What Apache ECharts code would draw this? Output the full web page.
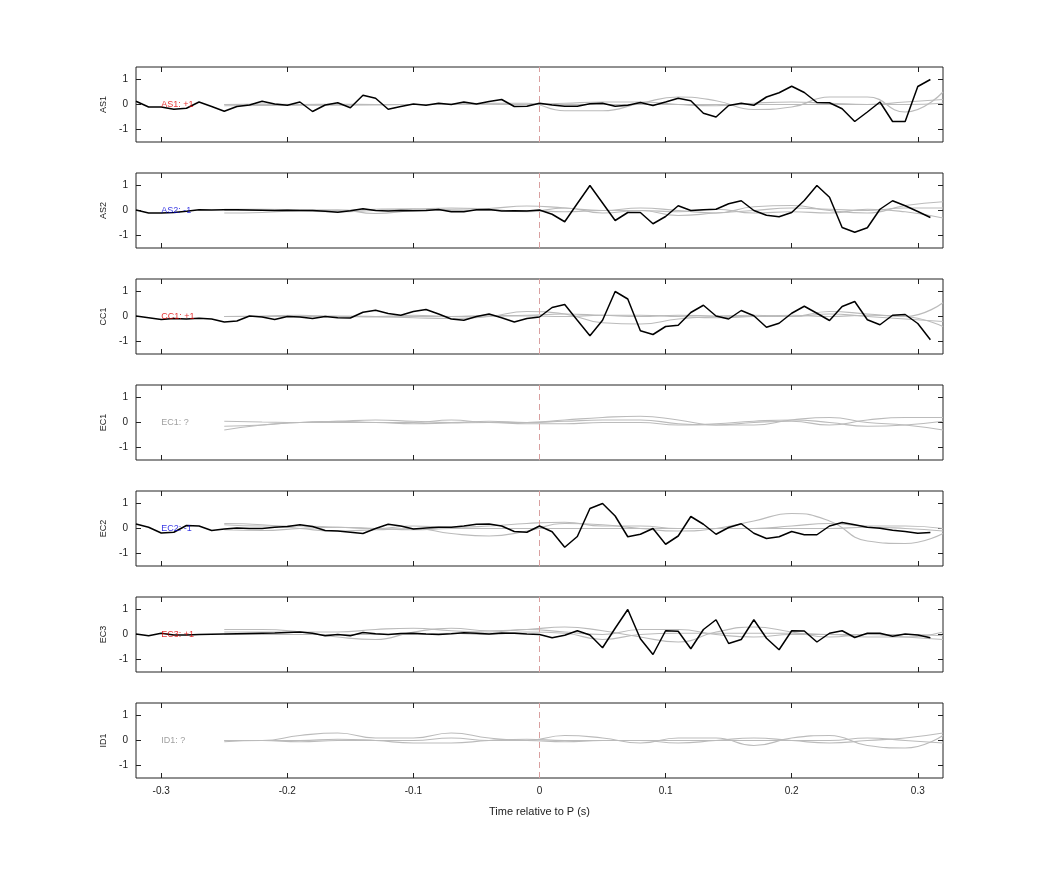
<!DOCTYPE html>
<html>
<head>
<meta charset="utf-8">
<script src="https://cdn.jsdelivr.net/npm/echarts@6/dist/echarts.min.js"></script>
<style>html,body{margin:0;padding:0;background:#fff}#main{width:1042px;height:875px}</style>
</head>
<body>
<div id="main"></div>
<script>
// stations and polarity picks
var stations = ['AS1', 'AS2', 'CC1', 'EC1', 'EC2', 'EC3', 'ID1'];
var picks = ['+1', '-1', '+1', '?', '-1', '+1', '?'];
var xTicks = [-0.3, -0.2, -0.1, 0, 0.1, 0.2, 0.3];
var yTicks = [-1, 0, 1];

// black traces, sampled every 0.01 s starting at -0.32
var traceStart = -0.32;
var as1 = [0.13,-0.1,-0.1,-0.19,-0.15,0.1,-0.08,-0.27,-0.08,-0.02,0.13,0.02,-0.03,0.1,-0.28,-0.02,0.07,-0.13,0.37,0.25,-0.19,-0.08,0.02,-0.03,0.05,0,0.1,0.02,0.12,0.2,-0.08,-0.07,0.05,
  -0.02,-0.07,-0.07,0.03,0.05,-0.07,-0.03,0.08,-0.04,0.1,0.25,0.15,-0.35,-0.5,-0.04,0.05,-0.03,0.3,0.47,0.73,0.48,0.08,0.07,-0.17,-0.68,-0.3,0.1,-0.68,-0.68,0.72,1.0];
var as2 = [0.02,-0.1,-0.1,-0.08,-0.03,0.03,0.02,0.03,0.03,0.02,0.01,0,0.01,0,0,-0.03,-0.07,-0.01,0.07,0,-0.02,0,-0.01,0,0.04,-0.05,-0.05,0.03,0.04,-0.02,-0.01,-0.02,
  0.02,-0.15,-0.45,0.28,1.0,0.3,-0.4,-0.08,-0.08,-0.53,-0.24,0.19,0,0.03,0.05,0.27,0.39,0,-0.19,-0.25,-0.08,0.4,1.0,0.53,-0.68,-0.87,-0.69,0.05,0.39,0.19,-0.04,-0.28];
var cc1 = [0.02,-0.05,-0.12,-0.08,-0.1,-0.07,-0.1,-0.22,-0.18,0.02,-0.02,-0.12,0,-0.02,-0.08,0,-0.05,-0.06,0.17,0.25,0.12,0.05,0.2,0.28,0.1,-0.1,-0.15,0,0.1,-0.05,-0.22,-0.08,
  -0.02,0.36,0.48,-0.15,-0.77,-0.15,1.0,0.7,-0.57,-0.72,-0.4,-0.35,0.16,0.45,0.02,-0.1,0.24,0.03,-0.43,-0.27,0.13,0.41,0.13,-0.16,0.4,0.6,-0.13,-0.33,0.05,0.08,-0.28,-0.93];
var ec1 = [];
var ec2 = [0.18,0.05,-0.18,-0.15,0.12,0.1,-0.08,-0.02,0.02,0,0,0.05,0.08,0.15,0.08,-0.08,-0.1,-0.15,-0.2,0,0.17,0.1,-0.02,0.02,0.05,0.05,0.1,0.17,0.18,0.1,-0.12,-0.15,
  0.1,-0.13,-0.75,-0.32,0.8,1.0,0.5,-0.33,-0.23,0,-0.63,-0.3,0.48,0.17,-0.23,0.04,0.19,-0.19,-0.4,-0.33,-0.12,-0.25,-0.25,0.1,0.24,0.15,0.05,0.01,-0.07,-0.12,-0.19,-0.16];
var ec3 = [0.02,-0.05,0.05,-0.02,-0.02,0,0.01,0.02,0.03,0.04,0.05,0.06,0.08,0.1,0.05,-0.05,0,-0.05,0.08,0.03,0,0.04,0.05,0.02,0,0.03,0.07,0.05,0.02,0.06,0.05,0.02,
  0,-0.13,-0.03,0.15,-0.02,-0.53,0.25,1.0,-0.17,-0.8,0.15,0.13,-0.57,0.2,0.59,-0.36,-0.2,0.59,-0.15,-0.61,0.15,0.14,-0.3,0.05,0.15,-0.12,0.05,0.05,-0.07,0.02,-0.02,-0.13];
var id1 = [];
var traces = [as1, as2, cc1, ec1, ec2, ec3, id1];

// grey template traces, sampled every 0.03 s starting at -0.25
var greyStart = -0.25;
var greyAS1 = [
  [0,0,0,0.01,0,0,0.02,0.05,0.05,-0.25,-0.25,0.05,0.3,0.15,-0.2,-0.1,0.3,0.3,-0.3,0.5],
  [0,0.02,0,-0.02,0,0,0,0.02,0,0.05,0.1,0.1,0,-0.05,0.05,0.1,0.05,0,0.1,0.2],
  [-0.05,-0.04,-0.03,-0.02,-0.02,0,0,0.01,0,0,0,0,0,0,0,0,0,0,0,0.05]
];
var greyAS2 = [
  [-0.1,-0.08,0,0.03,-0.12,0,0.05,0.08,0.18,0.1,0,0.1,0,-0.1,0.15,0.2,0,-0.1,0.2,0.35],
  [0.05,0.05,0.03,0,0.05,0.07,0,0,0,-0.05,0,0,-0.2,-0.1,0,0.1,0.05,0,0.1,0.1],
  [0,0,-0.02,-0.05,0,0.05,0.1,0.05,-0.05,0.1,-0.1,0,-0.05,0.05,-0.1,-0.05,-0.1,0.05,-0.05,-0.3]
];
var greyCC1 = [
  [0,0,0,0.02,0,-0.05,-0.08,0,0.2,0.1,-0.25,-0.3,-0.1,0,0.05,0,0.2,0.1,0,0.55],
  [0,0.02,0.05,0,0,0.05,0,0.03,0.05,0.1,0.05,0,0.05,0.02,0,0,0.1,0,-0.1,-0.2],
  [0,0,0,0,-0.02,0,0,0.02,0.02,0,0.05,0.05,0,-0.05,0,0.05,0,0.05,0,-0.4]
];
var greyEC1 = [
  [-0.3,-0.1,0,0.05,0.1,0.05,0,0.05,0,0.1,0.2,0.25,0.1,-0.1,-0.1,0.1,0.2,0,-0.1,-0.3],
  [0.05,0.02,0,0.05,0,0,0.1,0,0,0.05,0.1,0.1,-0.05,-0.1,0,0.05,-0.1,0.1,0.2,0.2],
  [-0.15,-0.1,0,0,0,-0.05,-0.02,0,-0.05,-0.05,0,0,-0.1,-0.05,0.05,0.1,0,-0.15,-0.1,0.05]
];
var greyEC2 = [
  [0.2,0.15,0,-0.1,-0.05,0,-0.2,-0.3,-0.1,0.2,0.15,0,-0.1,0,0.3,0.6,0.3,-0.5,-0.6,-0.2],
  [0.15,0.1,0.1,0.05,0,0.1,0.05,0.1,0.2,0.25,0.1,0.1,0,0,0,0.1,0.2,0.1,0.1,0],
  [-0.05,-0.08,0,0.05,0,-0.05,0,0,0,0,0,0,0,0,0,0,0,0.05,0,-0.1]
];
var greyEC3 = [
  [0.2,0.2,0.1,-0.1,-0.2,0.1,0.25,0.15,0.2,0.3,0.15,-0.1,-0.3,0.1,0.3,0.1,-0.1,0,-0.1,-0.2],
  [0.1,0.1,0.1,0.1,0.2,0.25,0.15,0.1,0.2,0.1,0,0.2,0.2,0,-0.1,0,0,-0.1,-0.1,0.1],
  [0,0,0,0,0,0,0.05,0,0.1,0.05,-0.2,0,0.05,0.05,0.05,0.05,0,0,0,-0.05]
];
var greyID1 = [
  [0,0,0.2,0.3,0.1,0.1,0.3,0.1,0,0.2,0.1,-0.1,0.1,0.1,-0.2,0.1,0.2,-0.2,-0.3,0.2],
  [0,0,-0.05,0,0,0,0.1,0,0,-0.05,0,0,-0.1,0,0.1,0,-0.1,0,0.1,0.3],
  [-0.05,0,0,0.05,0,-0.1,-0.1,0,0.05,0,0,0,0,0,0,0,0,0.1,0,-0.1]
];
var greys = [greyAS1, greyAS2, greyCC1, greyEC1, greyEC2, greyEC3, greyID1];

function toXY(start, step, arr) {
  return arr.map(function (v, i) { return [+(start + i * step).toFixed(3), v]; });
}

var pickColor = { '+1': '#e00000', '-1': '#0000dd', '?': '#888888' };
var grids = [], xAxes = [], yAxes = [], series = [];
var n = stations.length;
for (var i = 0; i < n; i++) {
  var last = (i === n - 1);
  grids.push({ left: 136, right: 99, top: 67 + i * 106, height: 75, show: true, borderColor: '#222', borderWidth: 1 });
  [['bottom', last], ['top', false]].forEach(function (p) {
    xAxes.push({
      gridIndex: i, type: 'value', min: -0.32, max: 0.32, position: p[0],
      axisLine: { show: false, onZero: false }, splitLine: { show: false },
      axisTick: { inside: true, length: 5, customValues: xTicks, lineStyle: { color: '#222' } },
      axisLabel: { show: p[1], customValues: xTicks, color: '#222', fontSize: 10, margin: 8,
        formatter: function (v) { return Math.abs(v) < 1e-9 ? '0' : String(+v.toFixed(1)); } },
      name: p[1] ? 'Time relative to P (s)' : '', nameLocation: 'middle', nameGap: 28,
      nameTextStyle: { color: '#222', fontSize: 11 }
    });
  });
  [['left', true], ['right', false]].forEach(function (p) {
    yAxes.push({
      gridIndex: i, type: 'value', min: -1.5, max: 1.5, position: p[0],
      axisLine: { show: false, onZero: false }, splitLine: { show: false },
      axisTick: { inside: true, length: 5, customValues: yTicks, lineStyle: { color: '#222' } },
      axisLabel: { show: p[1], customValues: yTicks, color: '#222', fontSize: 10, margin: 8 },
      name: p[1] ? stations[i] : '', nameLocation: 'middle', nameGap: 28, nameRotate: 90,
      nameTextStyle: { color: '#222', fontSize: 9 }
    });
  });
  var xi = i * 2, yi = i * 2;
  greys[i].forEach(function (g, k) {
    series.push({
      type: 'line', xAxisIndex: xi, yAxisIndex: yi, data: toXY(greyStart, 0.03, g),
      smooth: 0.5, showSymbol: false, silent: true,
      lineStyle: { color: '#bbbbbb', width: 1.2 },
      markLine: k === 0 ? { silent: true, symbol: 'none', label: { show: false },
        lineStyle: { color: '#d9a0a0', type: [6, 4], width: 1 }, data: [{ xAxis: 0 }] } : undefined
    });
  });
  series.push({
    type: 'line', xAxisIndex: xi, yAxisIndex: yi, data: toXY(traceStart, 0.01, traces[i]),
    showSymbol: false, lineStyle: { color: '#000', width: 1.5 }, z: 5
  });
  series.push({
    type: 'scatter', xAxisIndex: xi, yAxisIndex: yi, symbolSize: 0, z: 6,
    data: [[-0.3, 0]],
    label: { show: true, position: 'right', distance: 0, fontSize: 9, color: pickColor[picks[i]],
      formatter: stations[i] + ': ' + picks[i] }
  });
}

var chart = echarts.init(document.getElementById('main'));
chart.setOption({ animation: false, grid: grids, xAxis: xAxes, yAxis: yAxes, series: series });
</script>
</body>
</html>
